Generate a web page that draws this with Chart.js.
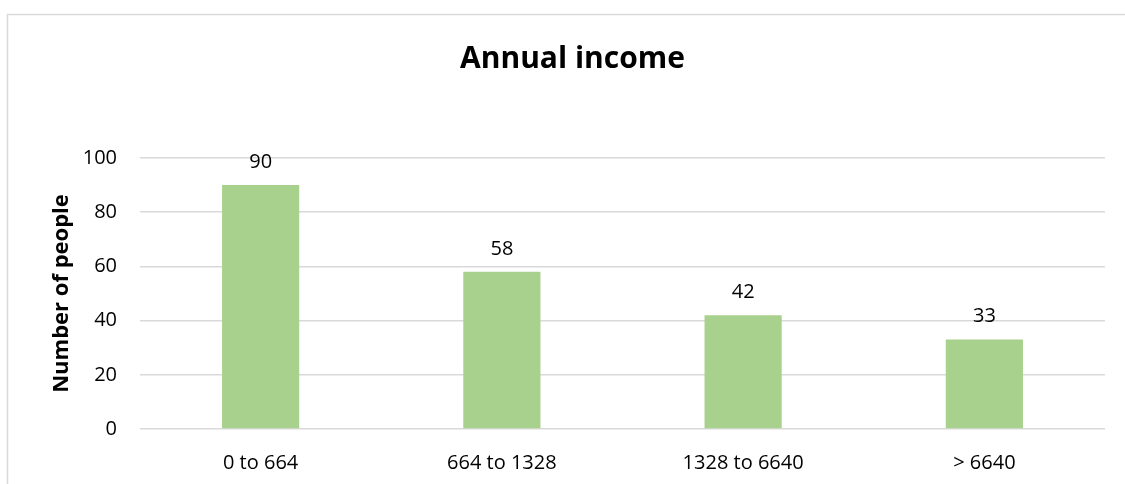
<!DOCTYPE html>
<html>
<head>
<meta charset="utf-8">
<script src="https://cdn.jsdelivr.net/npm/chart.js@4"></script>
<style>
  html, body { margin: 0; padding: 0; background: #fff; }
  #wrap { width: 1125px; height: 484px; }
</style>
</head>
<body>
<div id="wrap"><canvas id="incomeChart" width="1125" height="484"></canvas></div>
<script>
const categories = ["0 to 664", "664 to 1328", "1328 to 6640", "> 6640"];
const people = [90, 58, 42, 33];
const yTicks = [0, 20, 40, 60, 80, 100];

const FONT = "'Open Sans', Lato, sans-serif";

// outer frame like the spreadsheet chart box
const framePlugin = {
  id: "frame",
  beforeDraw(chart) {
    const ctx = chart.ctx;
    ctx.save();
    ctx.strokeStyle = "#d9d9d9";
    ctx.lineWidth = 1.5;
    ctx.strokeRect(7.5, 14.5, 1400, 800);
    ctx.restore();
  },
};

// value labels above each bar
const valueLabels = {
  id: "valueLabels",
  afterDatasetsDraw(chart) {
    const ctx = chart.ctx;
    const meta = chart.getDatasetMeta(0);
    ctx.save();
    ctx.font = "20px " + FONT;
    ctx.fillStyle = "#000";
    ctx.textAlign = "center";
    ctx.textBaseline = "middle";
    meta.data.forEach((bar, i) => {
      ctx.fillText(String(people[i]), bar.x, bar.y - 23);
    });
    ctx.restore();
  },
};

new Chart(document.getElementById("incomeChart"), {
  type: "bar",
  data: {
    labels: categories,
    datasets: [
      {
        data: people,
        backgroundColor: "#a9d18e",
        categoryPercentage: 1,
        barPercentage: 0.32,
      },
    ],
  },
  options: {
    responsive: false,
    animation: false,
    layout: { padding: { left: 40, right: 20, top: 0, bottom: 9 } },
    plugins: {
      legend: { display: false },
      tooltip: { enabled: false },
      title: {
        display: true,
        text: "Annual income",
        color: "#000",
        font: { family: FONT, size: 30, weight: "bold" },
        padding: { top: 41, bottom: 81 },
      },
    },
    scales: {
      x: {
        afterFit(scale) { scale.height = 46; },
        grid: { display: false, drawTicks: false },
        border: { display: false },
        ticks: { color: "#000", font: { family: FONT, size: 20 }, padding: 22 },
      },
      y: {
        min: 0,
        max: 100,
        afterFit(scale) { scale.width = 100; },
        afterBuildTicks(scale) { scale.ticks = yTicks.map(v => ({ value: v })); },
        grid: { color: "#d9d9d9", lineWidth: 1.5, drawTicks: false },
        border: { display: false },
        ticks: { color: "#000", font: { family: FONT, size: 20 }, padding: 23 },
        title: {
          display: true,
          text: "Number of people",
          color: "#000",
          font: { family: FONT, size: 22, weight: "bold" },
          padding: { top: 9, bottom: 0 },
        },
      },
    },
  },
  plugins: [framePlugin, valueLabels],
});
</script>
</body>
</html>
